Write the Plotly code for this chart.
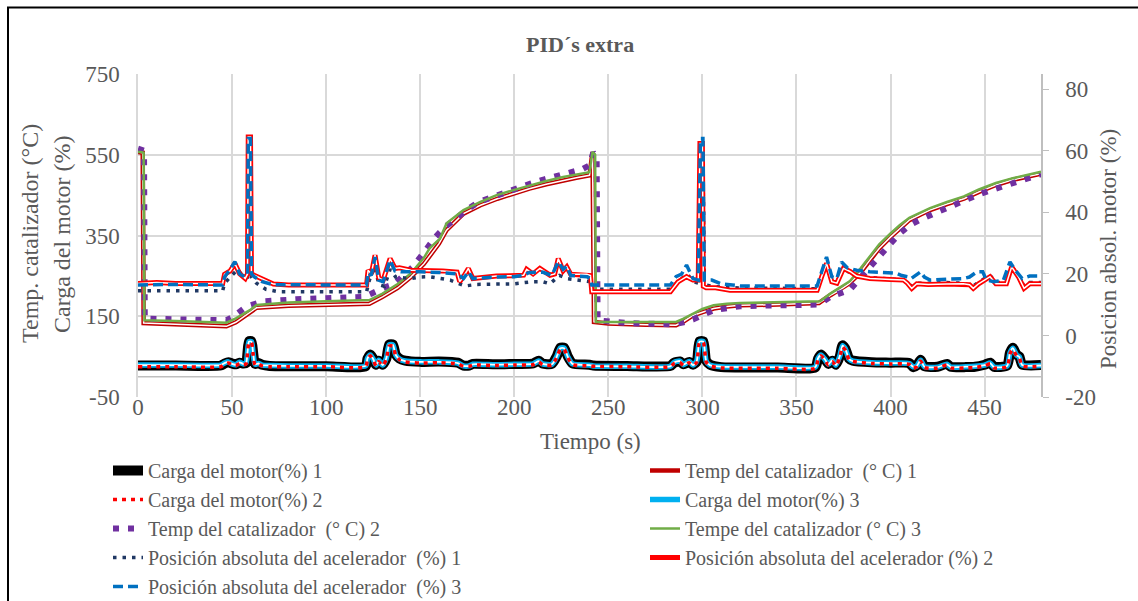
import plotly.graph_objects as go

# ---------------- data ----------------
t_temp1 = [0, 2.5, 3.0, 20, 47, 52, 56, 60, 63, 80, 100, 123, 130, 138, 145, 152, 160, 164, 173, 182, 191, 200, 208, 217, 226, 233, 240, 241.6, 242.4, 250, 270, 286, 290, 295, 300, 306, 313, 320, 340, 362, 368, 373, 378, 384, 389, 394, 400, 405, 410, 416, 421, 430, 439, 447, 456, 465, 472, 480]
v_temp1 = [557, 555, 133, 130, 125, 135, 148, 162, 171, 176, 179, 181, 198, 220, 247, 280, 330, 363, 404, 425, 441, 455, 466, 477, 487, 493, 499, 557, 136, 132, 129, 128, 137, 152, 160, 169, 174, 177, 179, 183, 202, 215, 231, 258, 289, 318, 346, 368, 388, 402, 413, 428, 441, 458, 475, 488, 495, 503]

t_temp2 = [0, 3.2, 3.6, 20, 47, 50, 53, 56, 59.5, 63, 67, 84, 100, 120, 124, 128, 132, 136, 141, 146, 152, 158, 163, 168.5, 175, 181, 188, 195, 202, 209, 216, 223, 231, 236, 240, 242, 243.8, 244.3, 260, 285, 290, 295, 300, 306, 313, 320, 340, 362, 368, 373, 378.5, 384, 389, 394, 400, 405, 410, 416, 421, 430, 439, 447, 456, 465, 472, 480]
v_temp2 = [565, 560, 144, 142, 140, 147, 158, 168, 177, 183, 187, 192, 195, 198, 206, 216, 223, 229, 250, 272, 308, 346, 370, 392, 414, 433, 445, 454, 466, 479, 489, 497, 507, 514, 524, 555, 545, 140, 133, 130, 135, 142, 153, 165, 170, 175, 177, 179, 198, 206, 216, 245, 272, 302, 330, 355, 375, 390, 400, 420, 437, 452, 466, 480, 490, 502]

t_temp3 = [0, 1.5, 3.0, 3.4, 20, 47, 52, 56, 59.5, 63, 80, 100, 123, 130, 138, 145, 152, 155, 160.5, 164, 173, 182, 190.6, 200, 208, 217, 226, 233, 240, 241.6, 243, 243.4, 260, 286, 290, 295, 300, 306, 313, 320, 340, 362.5, 368, 373, 378.5, 384, 389, 394, 400, 405, 410, 416, 421, 430, 439, 447, 456, 465, 472, 480]
v_temp3 = [557, 557, 555, 140, 138, 134, 145, 155, 165, 178, 184, 187, 190, 206, 230, 256, 295, 318, 342, 380, 413, 433, 450, 463, 474, 485, 495, 501, 507, 557, 550, 136, 136, 136, 144, 157, 168, 177, 181, 183, 185, 187, 206, 220, 237, 268, 297, 328, 355, 376, 394, 408, 418, 433, 447, 464, 480, 492, 500, 508]

t_pos2 = [0, 10, 20, 30, 45, 46, 49, 51.5, 54, 57, 58.2, 58.6, 59.8, 60.3, 61.7, 64, 66.6, 69, 72, 80, 100, 121.5, 122.3, 124, 126, 128, 130.3, 132, 134, 136.6, 139, 145, 155, 162, 169.6, 171, 173, 175.6, 178, 185, 190.6, 198, 205, 206.6, 210, 213.6, 219, 221.5, 223.4, 226, 227.9, 230, 238.6, 240.5, 241.2, 250, 270, 283, 287, 291.6, 295, 297.8, 298.7, 300, 300.5, 302, 307, 314.7, 340, 361, 363.4, 366, 368.8, 371.5, 375, 378.5, 382, 389, 400, 407, 409, 411.3, 414, 420, 430, 438.7, 442, 444, 446.8, 452.9, 456, 461.6, 464.4, 468, 471, 474, 480]
v_pos2 = [16.9, 17.2, 16.9, 16.9, 16.9, 19.9, 21, 23.4, 20.1, 18.5, 20, 64.5, 64.5, 20, 19.6, 19, 18, 17.5, 16.7, 16.4, 16.4, 16.4, 21.2, 20, 26.1, 18.7, 18, 21, 25, 21.8, 22, 21.2, 21.2, 21, 20.6, 17.5, 19.1, 21.8, 18.5, 19, 19.3, 19.4, 19.6, 21.5, 20, 21.8, 19.6, 20, 25, 21, 22.3, 19.9, 19.9, 19.5, 14.2, 14.2, 14.2, 14.2, 17.4, 19.1, 18, 18, 62.4, 62.4, 16, 15.5, 15.5, 14.7, 14.7, 14.7, 19.1, 23.4, 17.5, 17, 21.8, 20.8, 19.3, 18.5, 18.2, 18, 17, 15.3, 16.8, 16.6, 16.7, 16.8, 16.5, 15.3, 16.8, 19.1, 16.8, 16.8, 22.3, 19.1, 15.3, 16.8, 16.8]

t_pos3 = [0, 20, 45, 46, 49, 51.5, 54, 57, 58.2, 58.6, 59.8, 60.3, 62, 66, 72, 100, 121.5, 122.3, 124, 126, 128, 130.3, 132, 134, 136.6, 140, 150, 160, 170, 173, 175.6, 178, 190, 200, 205, 208, 215, 220, 223.4, 226, 228, 230, 238.6, 240.5, 241.2, 260, 283, 286, 289, 291.6, 295, 297.8, 299, 300.3, 301, 305, 310, 320, 340, 361, 363.4, 366, 368.8, 371.5, 374, 377, 382, 389, 396, 403.3, 406, 409, 411, 413, 416, 418, 421, 430, 438.7, 442, 445.9, 449, 451, 455, 460, 463.5, 466, 470, 474, 480]
v_pos3 = [16.4, 16.6, 16.4, 19, 21.5, 24, 20, 19, 20, 64, 64, 20, 19, 17.5, 16.5, 16.4, 16.4, 20.5, 19.5, 25.5, 18, 17.5, 20.5, 24.5, 21, 20.7, 20.7, 20.5, 20, 18.5, 20.7, 18.5, 19, 19.1, 19.6, 20.5, 20.6, 19.5, 24, 21.5, 22.5, 19.5, 19.1, 18.5, 16.4, 16.4, 16.4, 19.1, 20, 22.9, 18.5, 18, 64, 64, 18, 18, 16.8, 16.1, 16.1, 16.1, 20.7, 25.5, 19.1, 18.5, 23.9, 22, 21.2, 20.7, 20.5, 20.2, 19.5, 19.1, 18.5, 19.5, 20.7, 19, 18, 18.3, 18.5, 19, 20.7, 20.7, 18, 17.5, 18, 23.9, 21.5, 18.5, 19.3, 19.3]

t_pos1 = [0, 20, 45, 46, 50, 53, 56, 58.2, 58.6, 59.8, 60.3, 63, 68, 75, 100, 121.5, 123, 126, 128, 131, 134, 137, 145, 150, 155, 160, 166, 170, 174, 180, 190, 200, 210, 215, 219, 224, 228, 234, 240, 241.2, 260, 283, 287, 292, 295, 298, 299, 300.3, 301, 305, 314.7, 340, 361, 363.4, 366, 368.8, 371.5, 375, 379, 385, 389, 400, 407, 411.3, 414, 420, 430, 438.7, 444, 447, 453, 456, 461.6, 464.4, 468, 471, 474, 480]
v_pos1 = [14.5, 14.5, 14.5, 17, 19.5, 21.5, 19, 19, 62, 62, 19, 17, 15, 14.2, 14.2, 14.2, 18, 22.5, 16.5, 16, 21.5, 19, 18.5, 19, 19.1, 18.5, 18, 17, 16.1, 16.6, 16.6, 16.8, 17.5, 17.5, 16.8, 19.5, 18.5, 18, 17.5, 15, 15, 15, 17.5, 20, 17.5, 17, 60, 60, 16.5, 16, 15.5, 15.2, 15.2, 19.5, 23.5, 17.8, 17.5, 22, 20, 19, 18.8, 18.5, 18, 16, 17, 17, 17.2, 17, 16, 17.5, 19.5, 17.2, 17.2, 22.5, 19.5, 16, 17.2, 17.2]

t_carga = [0, 20, 44, 46, 48, 50, 52, 54, 56, 57.5, 58.2, 59, 60.3, 61.2, 62.2, 64, 66, 70, 80, 100, 121, 122, 123.5, 125, 126.5, 128, 130, 132, 133.5, 135.5, 137, 139, 142, 150, 160, 170, 173, 176, 178, 190, 200, 210, 213, 215, 220, 222.5, 224.5, 226.5, 228.5, 231, 240, 242, 260, 283, 285, 288, 290, 293, 295, 297, 298.5, 300.5, 302, 304, 310, 340, 360, 361.5, 363, 365, 367, 369, 371, 373, 374.5, 376, 378, 380, 390, 400, 410, 412, 414, 416, 418, 425, 430, 432, 440, 445, 450, 453, 455, 462, 463.5, 465, 467, 468.5, 470, 480]
v_carga1 = [28, 28, 28, 33, 36, 33, 31, 35, 33, 34, 60, 88, 88, 60, 32, 34, 30, 27, 26, 26, 26, 45, 55, 45, 30, 40, 30, 45, 80, 80, 55, 45, 40, 37, 38, 35, 28, 28, 32, 31, 32, 33, 40, 33, 32, 50, 72, 72, 50, 33, 30, 28, 27, 27, 35, 38, 31, 37, 30, 38, 88, 88, 40, 30, 24, 23, 23, 45, 55, 45, 32, 40, 30, 50, 78, 70, 45, 40, 36, 35, 34, 24, 28, 42, 26, 25, 32, 25, 24, 25, 30, 35, 25, 28, 60, 72, 55, 50, 30, 29]
v_carga3 = [29, 29, 29, 34, 37, 32, 30, 36, 32, 35, 60, 87, 87, 58, 31, 33, 29, 28, 27, 27, 27, 46, 54, 44, 29, 41, 29, 46, 79, 79, 54, 44, 39, 37, 37, 34, 27, 27, 31, 30, 31, 32, 39, 32, 31, 49, 71, 71, 49, 32, 29, 27, 26, 26, 36, 39, 30, 38, 29, 39, 87, 87, 39, 29, 25, 24, 24, 46, 54, 44, 31, 41, 29, 51, 77, 69, 44, 39, 35, 34, 33, 25, 27, 41, 25, 24, 31, 24, 25, 26, 29, 34, 24, 27, 59, 71, 54, 49, 29, 28]
v_carga2 = [25, 25, 25, 31, 34, 30, 28, 33, 30, 32, 58, 85, 85, 56, 29, 31, 27, 25, 25, 25, 25, 43, 52, 42, 27, 38, 27, 43, 76, 76, 52, 42, 37, 34, 35, 32, 26, 26, 29, 28, 29, 30, 37, 30, 29, 47, 68, 68, 47, 30, 27, 26, 25, 25, 33, 36, 28, 35, 28, 36, 85, 85, 37, 27, 22, 21, 21, 43, 52, 42, 29, 38, 27, 47, 74, 66, 42, 38, 33, 32, 31, 21, 25, 39, 23, 22, 29, 22, 22, 23, 27, 32, 22, 25, 57, 68, 52, 47, 27, 26]

# axis ticks
x_range = [0, 480]
y_left_ticks = [-50, 150, 350, 550, 750]
y_left_labels = ["-50", "150", "350", "550", "750"]
y_right_range = [-20, 85]
y_right_ticks = [-20, 0, 20, 40, 60, 80]
y_right_labels = ["-20", "0", "20", "40", "60", "80"]

FONT = "Liberation Serif"
GREY = "#595959"
GRID = "#D9D9D9"

fig = go.Figure()

def add(x, y, name, color, width, dash="solid", axis="y", rank=0, legend="legend", inner=None, smooth=False):
    shape = dict(shape="spline", smoothing=0.6) if smooth else dict(shape="linear")
    fig.add_trace(go.Scatter(x=x, y=y, name=name, mode="lines", yaxis=axis,
                             line=dict(color=color, width=width, dash=dash, **shape),
                             legendrank=rank, legend=legend, hoverinfo="skip"))
    if inner:
        fig.add_trace(go.Scatter(x=x, y=y, mode="lines", yaxis=axis,
                                 line=dict(color="white", width=inner, **shape),
                                 showlegend=False, hoverinfo="skip"))

add(t_carga, v_carga1, "Carga del motor(%) 1", "#000000", 10, rank=1, legend="legend", inner=3, smooth=True)
add(t_temp1, v_temp1, "Temp del catalizador  (° C) 1", "#C00000", 4.5, rank=1, legend="legend2", inner=1.5)
add(t_carga, v_carga3, "Carga del motor(%) 3", "#00B0F0", 5.5, rank=2, legend="legend2", inner=1.8, smooth=True)
add(t_carga, v_carga2, "Carga del motor(%) 2", "#FF0000", 3.5, dash="4px,5px", rank=2, legend="legend", smooth=True)
add(t_temp2, v_temp2, "Temp del catalizador  (° C) 2", "#7030A0", 6, dash="6px,9px", rank=3, legend="legend")
add(t_temp3, v_temp3, "Tempe del catalizador (° C) 3", "#70AD47", 2.5, rank=3, legend="legend2")
add(t_pos1, v_pos1, "Posición absoluta del acelerador  (%) 1", "#203864", 3.5, dash="3.5px,6px", axis="y2", rank=4, legend="legend")
add(t_pos2, v_pos2, "Posición absoluta del acelerador (%) 2", "#FF0000", 5, axis="y2", rank=4, legend="legend2", inner=1.5)
add(t_pos3, v_pos3, "Posición absoluta del acelerador  (%) 3", "#0070C0", 3.5, dash="10px,5px", axis="y2", rank=5, legend="legend")

W, H = 1138, 601
L, R, T, B = 138, 97, 74, 204
pw, ph = W - L - R, H - T - B

def px_x(p):
    return (p - L) / pw

def px_y(p):
    return (H - B - p) / ph

legend_font = dict(family=FONT, size=20, color=GREY)
tick_font = dict(family=FONT, size=23, color=GREY)

fig.update_layout(
    width=W, height=H,
    margin=dict(l=L, r=R, t=T, b=B, autoexpand=False),
    paper_bgcolor="white", plot_bgcolor="white",
    font=dict(family=FONT, color=GREY, size=22),
    xaxis=dict(range=x_range, tick0=0, dtick=50, showgrid=True, gridcolor=GRID, gridwidth=1.5,
               zeroline=False, showline=False, ticks="", tickfont=tick_font, ticklabelstandoff=-6),
    yaxis=dict(range=[y_left_ticks[0], y_left_ticks[-1]], tickmode="array", tickvals=y_left_ticks,
               ticktext=y_left_labels, showgrid=True, gridcolor=GRID, gridwidth=1.5,
               zeroline=False, showline=True, linecolor=GRID, linewidth=1.5, ticks="", tickfont=tick_font,
               ticklabelstandoff=12),
    yaxis2=dict(range=y_right_range, tickmode="array", tickvals=y_right_ticks, ticktext=y_right_labels,
                overlaying="y", side="right", showgrid=False,
                zeroline=False, showline=True, linecolor="#BFBFBF", linewidth=1.5, ticks="outside",
                ticklen=6, tickcolor="#BFBFBF", tickfont=tick_font, ticklabelstandoff=12),
    legend=dict(orientation="v", x=px_x(108), y=px_y(451), xanchor="left", yanchor="top",
                font=legend_font, bgcolor="rgba(0,0,0,0)", tracegroupgap=0),
    legend2=dict(orientation="v", x=px_x(645), y=px_y(451), xanchor="left", yanchor="top",
                 font=legend_font, bgcolor="rgba(0,0,0,0)", tracegroupgap=0),
    showlegend=True,
)

fig.add_shape(type="line", xref="paper", x0=0, x1=1, yref="y", y0=0, y1=0,
              line=dict(color="#BFBFBF", width=1.5), layer="below")
fig.add_shape(type="rect", xref="paper", yref="paper", x0=px_x(8), x1=px_x(1152), y0=px_y(615), y1=px_y(7.5),
              line=dict(color="black", width=2), fillcolor="rgba(0,0,0,0)", layer="below")

for text, xp, yp, size in [("<b>PID´s extra</b>", 580, 44, 22), ("Tiempo (s)", 590, 441, 23)]:
    fig.add_annotation(text=text, x=px_x(xp), y=px_y(yp), xref="paper", yref="paper", showarrow=False,
                       xanchor="center", yanchor="middle", font=dict(family=FONT, size=size, color=GREY))

for text, xp in [("Temp. catalizador (°C)", 30), ("Carga del motor (%)", 62)]:
    fig.add_annotation(text=text, x=px_x(xp), y=px_y(234), xref="paper", yref="paper", showarrow=False,
                       textangle=-90, xanchor="center", yanchor="middle",
                       font=dict(family=FONT, size=24, color=GREY))
fig.add_annotation(text="Posicion absol. motor (%)", x=px_x(1108), y=px_y(249), xref="paper", yref="paper",
                   showarrow=False, textangle=-90, xanchor="center", yanchor="middle",
                   font=dict(family=FONT, size=23, color=GREY))

fig.write_html("out.html")
